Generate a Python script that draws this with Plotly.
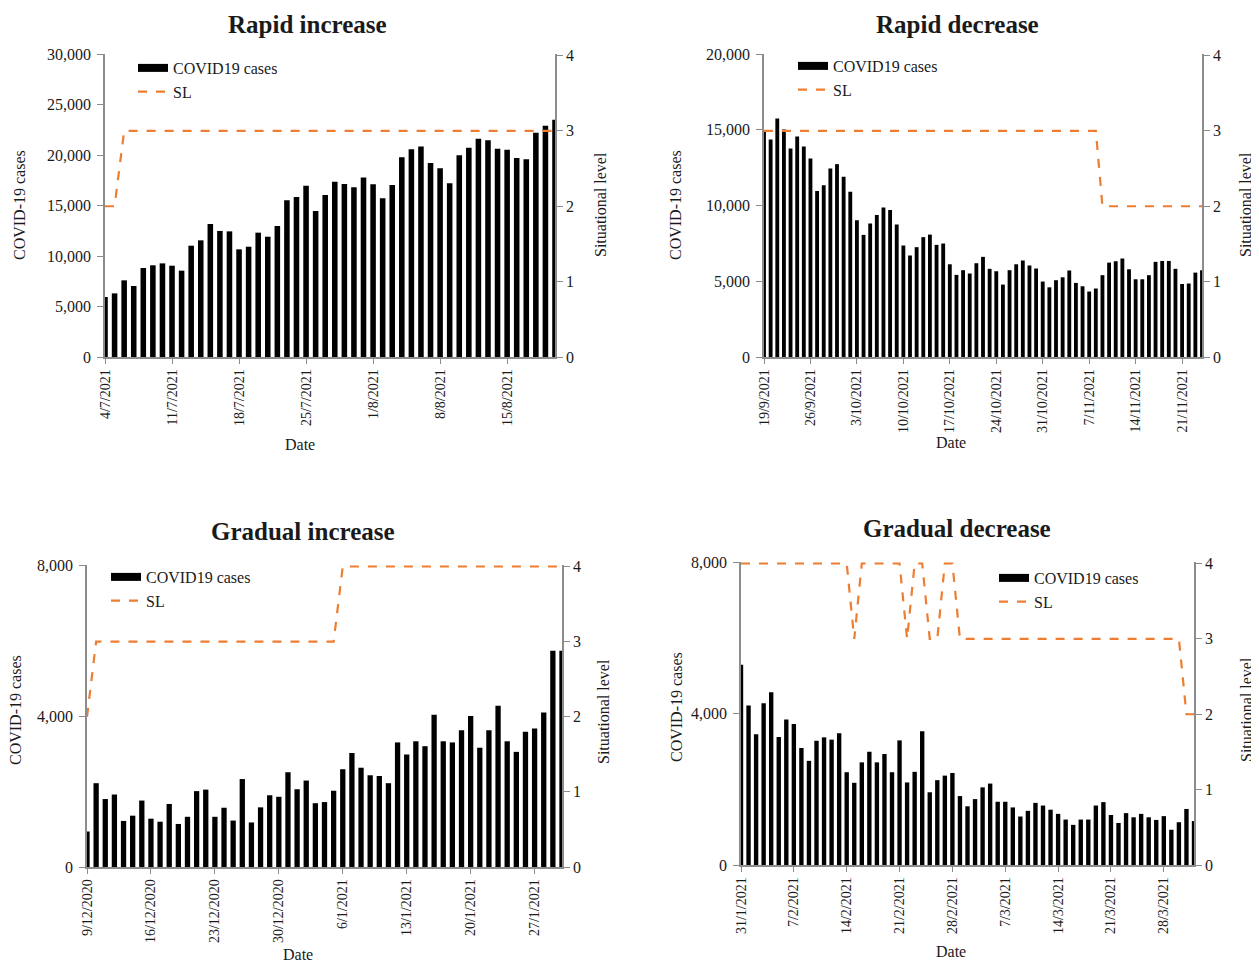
import datetime as dt
import plotly.graph_objects as go

# ---------------- data ----------------
ri_start = "2021-07-04"
ri_cases = [5940, 6300, 7590, 7030, 8810, 9080, 9270, 9040, 8550, 11020,
            11550, 13170, 12480, 12440, 10660, 10920, 12310, 11910, 12970, 15510,
            15840, 16960, 14460, 16040, 17360, 17130, 16800, 17760, 17100, 15710,
            17030, 19770, 20560, 20830, 19210, 18680, 17200, 19970, 20730, 21620,
            21450, 20630, 20530, 19700, 19570, 22210, 22900, 23500]
ri_sl = [2, 2] + [3] * 46

rd_start = "2021-09-19"
rd_cases = [14980, 14360, 15750, 15020, 13770, 14560, 13900, 13110, 10950, 11340,
            12450, 12730, 11890, 10900, 9030, 8060, 8810, 9380, 9870, 9710,
            8750, 7360, 6700, 7250, 7910, 8080, 7400, 7490, 6120, 5420,
            5730, 5510, 6190, 6610, 5820, 5660, 4780, 5730, 6120, 6370,
            6040, 5840, 4980, 4600, 5070, 5260, 5710, 4890, 4670, 4320,
            4520, 5400, 6230, 6320, 6500, 5790, 5130, 5130, 5400, 6280,
            6340, 6340, 5820, 4820, 4850, 5570, 5730]
rd_sl = [3] * 51 + [2] * 16

gi_start = "2020-12-09"
gi_cases = [940, 2220, 1800, 1920, 1220, 1360, 1760, 1280, 1200, 1670,
            1140, 1330, 2010, 2050, 1330, 1570, 1230, 2330, 1180, 1580,
            1900, 1860, 2510, 2060, 2290, 1690, 1720, 2020, 2590, 3020,
            2630, 2430, 2410, 2220, 3300, 2980, 3330, 3200, 4030, 3330,
            3300, 3620, 4000, 3160, 3620, 4270, 3330, 3050, 3580, 3670,
            4090, 5730, 5730]
gi_sl = [2] + [3] * 27 + [4] * 25

gd_start = "2021-01-31"
gd_cases = [5290, 4210, 3450, 4270, 4560, 3380, 3840, 3720, 3090, 2750,
            3280, 3370, 3310, 3480, 2450, 2170, 2710, 2990, 2710, 2930,
            2450, 3290, 2180, 2460, 3530, 1920, 2240, 2360, 2430, 1820,
            1550, 1740, 2050, 2150, 1670, 1670, 1520, 1280, 1430, 1640,
            1570, 1460, 1350, 1200, 1060, 1200, 1200, 1570, 1660, 1320,
            1110, 1370, 1260, 1350, 1260, 1190, 1290, 930, 1130, 1480,
            1160]
gd_sl = [4] * 15 + [3] + [4] * 6 + [3] + [4, 4] + [3, 3] + [4, 4] + [3] * 30 + [2, 2]

titles = ["Rapid increase", "Rapid decrease", "Gradual increase", "Gradual decrease"]
left_titles = ["COVID-19 cases"] * 4
right_title = "Situational level"
x_title = "Date"
bar_name = "COVID19 cases"
line_name = "SL"
left_ranges = [30000, 20000, 8000, 8000]
left_dticks = [5000, 5000, 4000, 4000]

panels = [(ri_start, ri_cases, ri_sl), (rd_start, rd_cases, rd_sl),
          (gi_start, gi_cases, gi_sl), (gd_start, gd_cases, gd_sl)]

# ---------------- layout geometry (window pixels) ----------------
W, H = 1259, 962
PAD = 8  # default page body margin (figure is drawn offset by this)
boxes = [(105, 555, 54, 357), (764, 1202, 54, 357),
         (87, 562, 565, 867), (741, 1194, 562, 865)]
title_pos = [(307, 24), (957, 24), (303, 531), (957, 528)]
ltitle_pos = [(20, 205), (676, 205), (15, 710), (676, 707)]
rtitle_pos = [(601, 205), (1246, 205), (603, 712), (1246, 710)]
xtitle_pos = [(300, 444), (951, 443), (298, 954), (951, 951)]
legend_pos = [(133, 51), (793, 49), (106, 560), (994, 561)]

FONT = "Times New Roman, Liberation Serif, serif"
ORANGE = "#ED7D31"
AX = "#8c8c8c"
TXT = "#1a1a1a"


def px(x):
    return (x - PAD) / W


def py(y):
    return 1 - (y - PAD) / H


fig = go.Figure()
DAY = 86400000
layout = dict(width=W, height=H, margin=dict(l=0, r=0, t=0, b=0, autoexpand=False),
              paper_bgcolor="white", plot_bgcolor="white",
              font=dict(family=FONT, size=16, color=TXT),
              bargap=0.42, showlegend=True)
annotations = []

for i, (start, cases, sl) in enumerate(panels):
    n = len(cases)
    d0 = dt.date.fromisoformat(start)
    dates = [(d0 + dt.timedelta(days=k)).isoformat() for k in range(n)]
    k = i + 1
    xa = "x" if k == 1 else f"x{k}"
    ya = f"y{2 * k - 1}" if k > 1 else "y"
    yb = f"y{2 * k}"
    lg = "legend" if k == 1 else f"legend{k}"
    fig.add_trace(go.Bar(x=dates, y=cases, name=bar_name, marker_color="black",
                         marker_line_width=0, xaxis=xa, yaxis=ya, showlegend=False))
    # legend entry drawn as a wide black bar swatch (no data)
    fig.add_trace(go.Scatter(x=[None], y=[None], name=bar_name, mode="lines",
                             line=dict(color="black", width=8),
                             xaxis=xa, yaxis=ya, legend=lg, hoverinfo="skip"))
    fig.add_trace(go.Scatter(x=dates, y=sl, name=line_name, mode="lines",
                             line=dict(color=ORANGE, width=2.2, dash="dash"),
                             xaxis=xa, yaxis=yb, legend=lg))
    x0, x1, y0, y1 = boxes[i]
    lo = (d0 - dt.timedelta(hours=9)).isoformat()
    hi = (d0 + dt.timedelta(days=n - 1, hours=13)).isoformat()
    xkey = "xaxis" if k == 1 else f"xaxis{k}"
    ykey = f"yaxis{2 * k - 1}" if k > 1 else "yaxis"
    ykey2 = f"yaxis{2 * k}"
    layout[xkey] = dict(domain=[px(x0), px(x1)], anchor=ya, type="date",
                        range=[lo, hi], tick0=start, dtick=7 * DAY,
                        tickformat="%-d/%-m/%Y", tickangle=-90, automargin=False,
                        showline=True, linecolor=AX, linewidth=1.5,
                        ticks="outside", tickcolor=AX, ticklen=5,
                        showgrid=False, zeroline=False,
                        tickfont=dict(size=14, color=TXT))
    layout[ykey] = dict(domain=[py(y1), py(y0)], anchor=xa, automargin=False,
                        range=[0, left_ranges[i]], dtick=left_dticks[i],
                        tickformat=",d", showline=True, linecolor=AX, linewidth=1.5,
                        ticks="outside", tickcolor=AX, ticklen=6,
                        ticklabelstandoff=3,
                        showgrid=False, zeroline=False,
                        tickfont=dict(size=16, color=TXT))
    layout[ykey2] = dict(overlaying=ya, anchor=xa, side="right", automargin=False,
                         range=[0, 4.02], tickvals=[0, 1, 2, 3, 4],
                         showline=True, linecolor=AX,
                         linewidth=1.5, ticks="outside", tickcolor=AX, ticklen=6,
                         showgrid=False, zeroline=False,
                         tickfont=dict(size=16, color=TXT))
    lx, ly = legend_pos[i]
    layout[lg] = dict(x=px(lx), y=py(ly), xanchor="left", yanchor="top",
                      bgcolor="rgba(0,0,0,0)", itemwidth=30,
                      font=dict(size=16, family=FONT, color=TXT))
    tx, ty = title_pos[i]
    annotations.append(dict(x=px(tx), y=py(ty), xref="paper", yref="paper",
                            xanchor="center", yanchor="middle", borderpad=0,
                            text=f"<b>{titles[i]}</b>", showarrow=False,
                            font=dict(size=25, family=FONT, color=TXT)))
    ax_, ay_ = ltitle_pos[i]
    annotations.append(dict(x=px(ax_), y=py(ay_), xref="paper", yref="paper",
                            xanchor="center", yanchor="middle",
                            text=left_titles[i], textangle=-90, showarrow=False,
                            font=dict(size=16, family=FONT, color=TXT)))
    rx, ry = rtitle_pos[i]
    annotations.append(dict(x=px(rx), y=py(ry), xref="paper", yref="paper",
                            xanchor="center", yanchor="middle",
                            text=right_title, textangle=-90, showarrow=False,
                            font=dict(size=16, family=FONT, color=TXT)))
    dx, dy = xtitle_pos[i]
    annotations.append(dict(x=px(dx), y=py(dy), xref="paper", yref="paper",
                            xanchor="center", yanchor="middle",
                            text=x_title, showarrow=False,
                            font=dict(size=16, family=FONT, color=TXT)))

layout["annotations"] = annotations
fig.update_layout(**layout)
fig.write_html("out.html")
